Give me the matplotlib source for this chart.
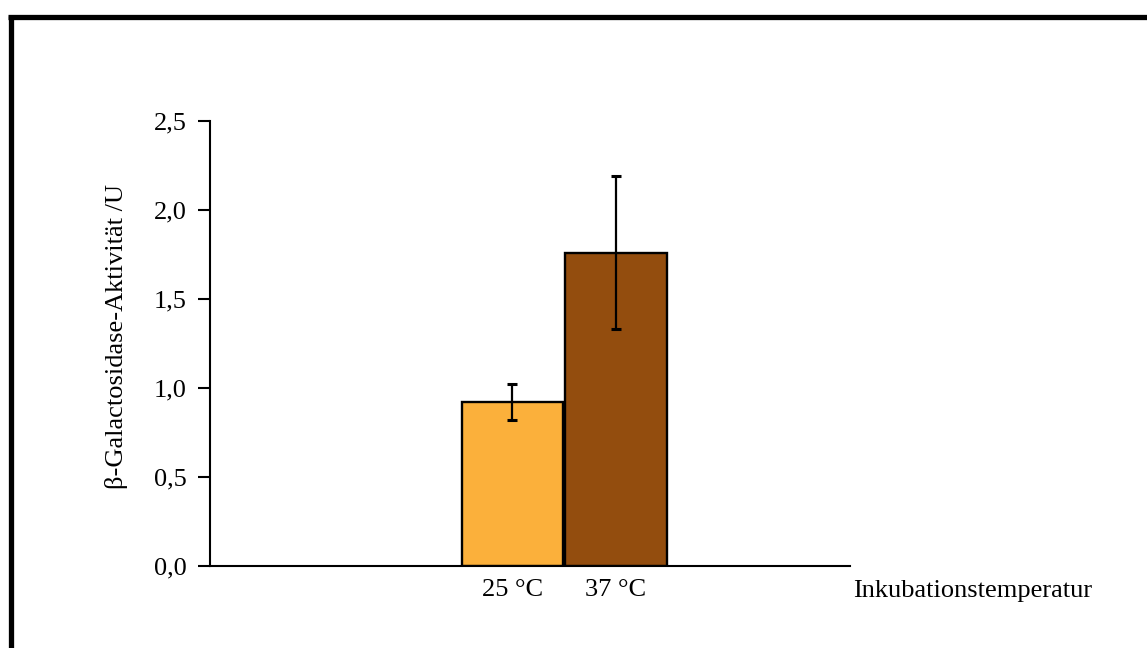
import numpy as np
import matplotlib
matplotlib.use("Agg")
import matplotlib.pyplot as plt
from matplotlib.lines import Line2D
from matplotlib.ticker import FuncFormatter

plt.rcParams["font.family"] = ["Liberation Serif", "DejaVu Serif"]

# data
temperatures = ["25 °C", "37 °C"]
activity = [0.92, 1.76]
activity_err = [0.10, 0.43]
bar_colors = ["#FBB03B", "#934D0E"]
y_ticks = [0.0, 0.5, 1.0, 1.5, 2.0, 2.5]

fig = plt.figure(figsize=(11.47, 6.48), dpi=100)
ax = fig.add_axes([0.183, 0.1265, 0.558, 0.6868])

x = np.arange(len(temperatures))
ax.bar(x, activity, width=0.98, color=bar_colors, edgecolor="black",
       linewidth=1.7, zorder=2)
ax.errorbar(x, activity, yerr=activity_err, fmt="none", ecolor="black",
            elinewidth=1.6, capsize=3.5, capthick=2.2, zorder=3)

ax.set_xlim(-2.92, 3.26)
ax.set_ylim(0, 2.5)
ax.set_yticks(y_ticks)
ax.yaxis.set_major_formatter(FuncFormatter(lambda v, p: f"{v:.1f}".replace(".", ",")))
ax.set_xticks(x)
ax.set_xticklabels(temperatures)

for side in ["top", "right"]:
    ax.spines[side].set_visible(False)
ax.spines["left"].set_linewidth(1.5)
ax.spines["bottom"].set_linewidth(1.5)
ax.tick_params(axis="y", length=9, width=1.5, labelsize=19, pad=8)
ax.tick_params(axis="x", length=0, labelsize=19, pad=9)

ax.set_ylabel("β-Galactosidase-Aktivität /U", fontsize=19)
ax.yaxis.set_label_coords(-0.128, 0.515)

ax.text(1.005, -0.055, "Inkubationstemperatur", transform=ax.transAxes,
        fontsize=19, ha="left", va="center")

# outer frame (top and left edges only)
fig.add_artist(Line2D([0.0070, 1.0], [0.973, 0.973], color="black",
                      linewidth=3.8, transform=fig.transFigure,
                      solid_capstyle="butt"))
fig.add_artist(Line2D([0.0092, 0.0092], [0.0, 0.975], color="black",
                      linewidth=3.8, transform=fig.transFigure,
                      solid_capstyle="butt"))

fig.savefig("out.png", dpi=100)
